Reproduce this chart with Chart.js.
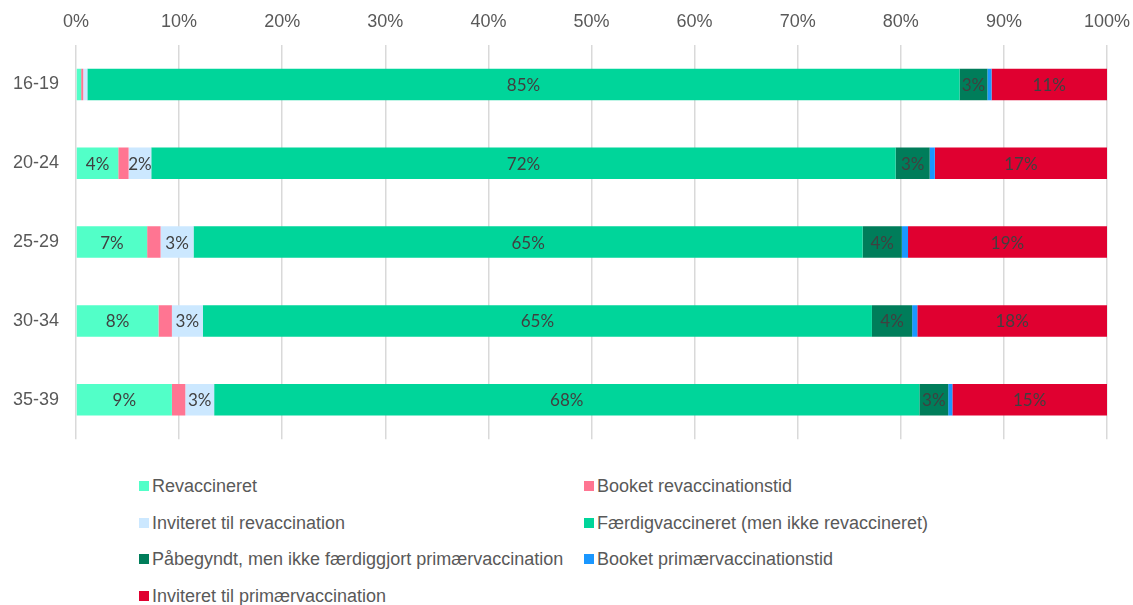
<!DOCTYPE html>
<html>
<head>
<meta charset="utf-8">
<style>
	html, body { margin: 0; background: #fff; overflow: hidden; }
	#wrap { position: relative; width: 1133px; height: 467px; }
	#legend { position: absolute; left: 139px; top: 474px; width: 900px;
		display: grid; grid-template-columns: 445px 445px; row-gap: 0;
		font-family: "Liberation Sans", Arial, sans-serif; font-size: 18px; color: #595959; }
	#legend div { height: 36.7px; line-height: 24px; white-space: nowrap; }
	#legend span { display: inline-block; width: 10px; height: 10px; margin-right: 3px; vertical-align: 1px; }
</style>
</head>
<body>
<div id="wrap"><canvas id="chart"></canvas></div>
<div id="legend"></div>

<script src="https://cdn.jsdelivr.net/npm/chart.js@4/dist/chart.umd.min.js"></script>
<script>
	// Aldersgrupper
	var categories = ["16-19", "20-24", "25-29", "30-34", "35-39"];
	var xTicks = [0, 10, 20, 30, 40, 50, 60, 70, 80, 90, 100];

	// Andele i procent pr. aldersgruppe
	var revaccineret        = [0.5, 4.1, 6.9, 8.0, 9.3];
	var booketRevacc        = [0.2, 1.0, 1.3, 1.3, 1.3];
	var inviteretRevacc     = [0.4, 2.2, 3.2, 3.0, 2.8];
	var faerdigvaccineret   = [84.6, 72.2, 64.9, 64.9, 68.4];
	var paabegyndt          = [2.7, 3.3, 3.8, 3.9, 2.8];
	var booketPrimaer       = [0.4, 0.5, 0.6, 0.5, 0.4];
	var inviteretPrimaer    = [11.2, 16.7, 19.3, 18.4, 15.0];

	var series = [
		{ label: "Revaccineret", data: revaccineret, color: "#52ffc8" },
		{ label: "Booket revaccinationstid", data: booketRevacc, color: "#ff7592" },
		{ label: "Inviteret til revaccination", data: inviteretRevacc, color: "#cce8ff" },
		{ label: "Færdigvaccineret (men ikke revaccineret)", data: faerdigvaccineret, color: "#00d59a" },
		{ label: "Påbegyndt, men ikke færdiggjort primærvaccination", data: paabegyndt, color: "#007d5a" },
		{ label: "Booket primærvaccinationstid", data: booketPrimaer, color: "#1a97ff" },
		{ label: "Inviteret til primærvaccination", data: inviteretPrimaer, color: "#e00030" }
	];

	// Etiketter midt i segmenterne (kun >= 2%)
	var segmentLabels = {
		id: "segmentLabels",
		afterDatasetsDraw: function(chart){
			var ctx = chart.ctx;
			ctx.save();
			ctx.font = "17px Lato, 'Open Sans', sans-serif";
			ctx.fillStyle = "#404040";
			ctx.textAlign = "center";
			ctx.textBaseline = "middle";
			chart.data.datasets.forEach(function(ds, i){
				chart.getDatasetMeta(i).data.forEach(function(bar, j){
					var v = ds.data[j];
					if(v < 2) return;
					var p = bar.getCenterPoint();
					ctx.fillText(Math.round(v) + "%", p.x, p.y + 1);
				});
			});
			ctx.restore();
		}
	};

	var chart = new Chart(document.getElementById("chart"), {
		type: "bar",
		data: {
			labels: categories,
			datasets: series.map(function(s){
				return { label: s.label, data: s.data, backgroundColor: s.color, borderWidth: 0,
					barPercentage: 0.4, categoryPercentage: 1 };
			})
		},
		options: {
			indexAxis: "y",
			responsive: true,
			maintainAspectRatio: false,
			animation: false,
			layout: { padding: { left: 0, right: 26, top: 0, bottom: 7 } },
			scales: {
				x: {
					position: "top",
					stacked: true,
					min: 0,
					max: 100,
					afterBuildTicks: function(scale){
						scale.ticks = xTicks.map(function(v){ return { value: v }; });
					},
					afterFit: function(scale){
						scale.height = 45;
						scale.paddingLeft = 0;
						scale.paddingRight = 0;
					},
					ticks: {
						padding: 12,
						color: "#595959",
						font: { family: "'Liberation Sans', Arial, sans-serif", size: 18 },
						callback: function(v){ return v + "%"; }
					},
					grid: { color: "#d9d9d9", lineWidth: 1.5, drawTicks: false },
					border: { display: false }
				},
				y: {
					stacked: true,
					afterFit: function(scale){ scale.width = 76; },
					ticks: {
						padding: 17,
						color: "#595959",
						font: { family: "'Liberation Sans', Arial, sans-serif", size: 18 }
					},
					grid: { display: false, drawTicks: false },
					border: { display: false }
				}
			},
			plugins: {
				legend: { display: false },
				tooltip: { enabled: false }
			}
		},
		plugins: [segmentLabels]
	});

	// Forklaring i to kolonner
	var legend = document.getElementById("legend");
	series.forEach(function(s){
		var item = document.createElement("div");
		item.innerHTML = '<span style="background:' + s.color + '"></span>' + s.label;
		legend.appendChild(item);
	});
</script>
</body>
</html>
